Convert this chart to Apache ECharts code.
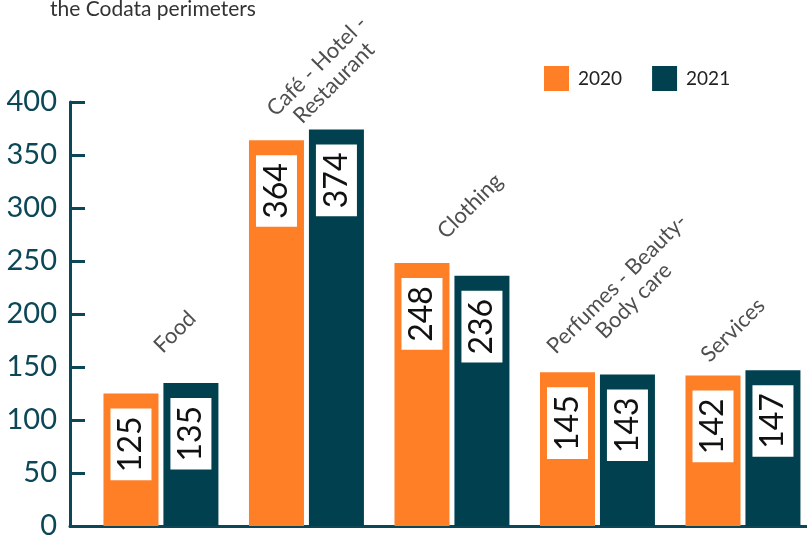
<!DOCTYPE html>
<html>
<head>
<meta charset="utf-8">
<script src="https://cdn.jsdelivr.net/npm/echarts@6/dist/echarts.min.js"></script>
<style>html,body{margin:0;padding:0;background:#fff;}#c{width:807px;height:535px;}</style>
</head>
<body>
<div id="c"></div>
<script>
const categories = ['Food', 'Café - Hotel -\nRestaurant', 'Clothing', 'Perfumes - Beauty-\nBody care', 'Services'];
const values2020 = [125, 364, 248, 145, 142];
const values2021 = [135, 374, 236, 143, 147];
const seriesNames = ['2020', '2021'];
const yTicks = [0, 50, 100, 150, 200, 250, 300, 350, 400];

// label placement (screen-pixel offsets from the group's top), layout only
const catLabelOffsets = [[14, -51], [19, -55], [18, -57], [28, -80], [-10, -40]];

const ORANGE = '#FF7F27';
const TEAL = '#01404F';
const AXIS = '#0B4756';
const FONT = 'Lato, "Open Sans", sans-serif';

const chart = echarts.init(document.getElementById('c'), null, {renderer: 'canvas'});

const valueLabel = {
  show: true,
  position: 'insideTop',
  distance: 15,
  rotate: 90,
  align: 'right',
  verticalAlign: 'middle',
  color: '#111',
  fontFamily: FONT,
  fontSize: 32,
  lineHeight: 32,
  backgroundColor: '#fff',
  padding: [5, 8, 4, 8]
};

chart.setOption({
  animation: false,
  backgroundColor: '#fff',
  title: {
    text: 'the Codata perimeters',
    left: 45,
    top: -6,
    textStyle: {fontFamily: FONT, fontSize: 21, fontWeight: 'normal', color: '#333'}
  },
  legend: {
    data: seriesNames,
    left: 539,
    top: 61,
    itemWidth: 25,
    itemHeight: 25,
    itemGap: 30,
    icon: 'rect',
    textStyle: {fontFamily: FONT, fontSize: 19, color: '#222', padding: [0, 0, 0, 4]}
  },
  grid: {left: 70, right: 0, top: 102, bottom: 9, containLabel: false, outerBoundsMode: 'none'},
  xAxis: {
    type: 'value',
    min: -0.625,
    max: 4.44,
    axisLine: {show: true, onZero: false, lineStyle: {color: AXIS, width: 3}},
    axisTick: {show: false},
    axisLabel: {show: false},
    splitLine: {show: false}
  },
  yAxis: {
    type: 'value',
    min: yTicks[0],
    max: yTicks[yTicks.length - 1],
    interval: yTicks[1] - yTicks[0],
    axisLine: {show: true, onZero: false, lineStyle: {color: AXIS, width: 3}},
    axisTick: {show: true, inside: true, length: 15, lineStyle: {color: AXIS, width: 3}},
    axisLabel: {margin: 13, fontFamily: FONT, fontSize: 29, color: AXIS},
    splitLine: {show: false}
  },
  series: [
    {
      name: seriesNames[0],
      type: 'bar',
      barWidth: 55,
      barGap: '9%',
      itemStyle: {color: ORANGE},
      label: valueLabel,
      data: values2020.map((v, i) => [i, v])
    },
    {
      name: seriesNames[1],
      type: 'bar',
      barWidth: 55,
      barGap: '9%',
      itemStyle: {color: TEAL},
      label: valueLabel,
      data: values2021.map((v, i) => [i, v])
    },
    {
      name: 'categories',
      type: 'scatter',
      symbolSize: 0,
      silent: true,
      legendHoverLink: false,
      data: categories.map((c, i) => ({
        value: [i, Math.max(values2020[i], values2021[i])],
        label: {position: catLabelOffsets[i]}
      })),
      label: {
        show: true,
        formatter: p => categories[p.dataIndex],
        rotate: 45,
        align: 'center',
        verticalAlign: 'middle',
        fontFamily: FONT,
        fontSize: 22,
        lineHeight: 24,
        color: '#222'
      }
    }
  ]
});
</script>
</body>
</html>
